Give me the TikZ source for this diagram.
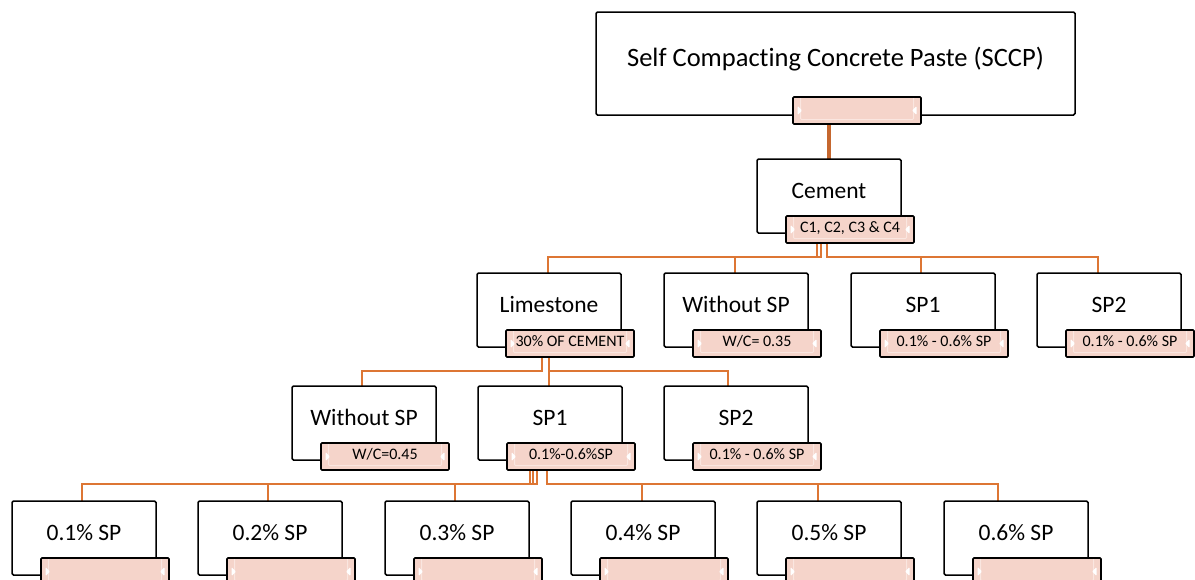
\documentclass[tikz,border=0pt]{standalone}
\usepackage{fontspec}
\setmainfont{Carlito}[Ligatures=NoCommon]
\usetikzlibrary{backgrounds}
\definecolor{link}{RGB}{221,118,52}
\definecolor{linkdark}{RGB}{197,103,47}
\definecolor{tagfill}{RGB}{245,212,202}
\definecolor{tagedge}{RGB}{250,230,224}

% one block: white box with its caption tag below
\newcommand\mkunit[5]{%
  \node[box] (#1) at ({#2+72},{#3+37}) {#4};
  \node[tag] (#1t) at ({#2+93},{#3+70.5}) {#5};
}

\begin{document}
\begin{tikzpicture}[x=1pt,y=-1pt,
  box/.style={draw=black,line width=1.5pt,rounded corners=1.5pt,fill=white,
    minimum width=144pt,minimum height=74pt,inner sep=0pt,outer sep=0pt,
    font=\fontsize{23.5}{28}\selectfont,text height=16pt,text depth=10.8pt},
  headbox/.style={box,minimum width=479pt,minimum height=103pt,
    font=\fontsize{26.5}{32}\selectfont,text height=18pt,text depth=13pt},
  tag/.style={draw=black,line width=1.6pt,rounded corners=1pt,fill=tagfill,
    minimum width=128pt,minimum height=27pt,inner sep=0pt,outer sep=0pt,
    font=\fontsize{16}{18}\selectfont,text height=10.5pt,text depth=4.5pt,
    path picture={
      \draw[tagedge,line width=1pt]
        ([xshift=7.5pt]path picture bounding box.north west)
        -- ([xshift=7.5pt,yshift=4.5pt]path picture bounding box.south west)
        -- ([xshift=-7.5pt,yshift=4.5pt]path picture bounding box.south east)
        -- ([xshift=-7.5pt]path picture bounding box.north east);
      \fill[white] ([xshift=4.5pt,yshift=4.5pt]path picture bounding box.west)
        -- ++(4.5pt,-4.5pt) -- ++(-4.5pt,-4.5pt) -- cycle;
      \fill[white] ([xshift=-4.5pt,yshift=4.5pt]path picture bounding box.east)
        -- ++(-4.5pt,-4.5pt) -- ++(4.5pt,-4.5pt) -- cycle;
    }},
  link/.style={draw=link,line width=2.5pt},
]
\useasboundingbox (0,0) rectangle (1195,579);

% root
\node[headbox] (sccp) at (835.5,63.5) {Self Compacting Concrete Paste (SCCP)};
\node[tag] (sccpt) at (857,110.5) {};

% level 1
\mkunit{cem}{757}{159}{Cement}{C1, C2, C3 \& C4}
% level 2
\mkunit{lime}{477}{273}{Limestone}{30\% OF CEMENT}
\mkunit{wsa}{664}{273}{Without SP}{W/C= 0.35}
\mkunit{spa}{851}{273}{SP1}{0.1\% - 0.6\% SP}
\mkunit{spb}{1037}{273}{SP2}{0.1\% - 0.6\% SP}
% level 3
\mkunit{wsb}{292}{386}{Without SP}{W/C=0.45}
\mkunit{spc}{478}{386}{SP1}{0.1\%-0.6\%SP}
\mkunit{spd}{664}{386}{SP2}{0.1\% - 0.6\% SP}
% level 4
\mkunit{pa}{12}{501}{0.1\% SP}{}
\mkunit{pb}{198}{501}{0.2\% SP}{}
\mkunit{pc}{385}{501}{0.3\% SP}{}
\mkunit{pd}{571}{501}{0.4\% SP}{}
\mkunit{pe}{757}{501}{0.5\% SP}{}
\mkunit{pf}{944}{501}{0.6\% SP}{}

\begin{scope}[on background layer]
  \fill[white] (0,0) rectangle (1195,579);
  % root to cement
  \draw[link,draw=linkdark,line width=3.2pt] ([xshift=-28]sccpt.south) -- (cem.north);
  % cement to level 2
  \draw[link] ([xshift=-33]cemt.south) -- ++(0,14) -| ([xshift=-1]lime.north);
  \draw[link] ([xshift=-29]cemt.south) -- ++(0,14) -| ([xshift=-1]wsa.north);
  \draw[link] ([xshift=-23]cemt.south) -- ++(0,14) -| ([xshift=-2]spa.north);
  \draw[link] ([xshift=-23]cemt.south) -- ++(0,14) -| ([xshift=-11]spb.north);
  % limestone to level 3
  \draw[link] ([xshift=-28]limet.south) -- ++(0,14) -| ([xshift=-2]wsb.north);
  \draw[link] ([xshift=-21]limet.south) -- ++(0,14) -| ([xshift=-1]spc.north);
  \draw[link] ([xshift=-21]limet.south) -- ++(0,14) -| ([xshift=-8]spd.north);
  % SP1 to level 4
  \draw[link] ([xshift=-41]spct.south) -- ++(0,14) -| ([xshift=-2]pa.north);
  \draw[link] ([xshift=-38]spct.south) -- ++(0,14) -| ([xshift=-2]pb.north);
  \draw[link] ([xshift=-34]spct.south) -- ++(0,14) -| ([xshift=-2]pc.north);
  \draw[link] ([xshift=-24]spct.south) -- ++(0,14) -| ([xshift=-1]pd.north);
  \draw[link] ([xshift=-24]spct.south) -- ++(0,14) -| ([xshift=-11]pe.north);
  \draw[link] ([xshift=-24]spct.south) -- ++(0,14) -| ([xshift=-18]pf.north);
\end{scope}
\end{tikzpicture}
\end{document}
